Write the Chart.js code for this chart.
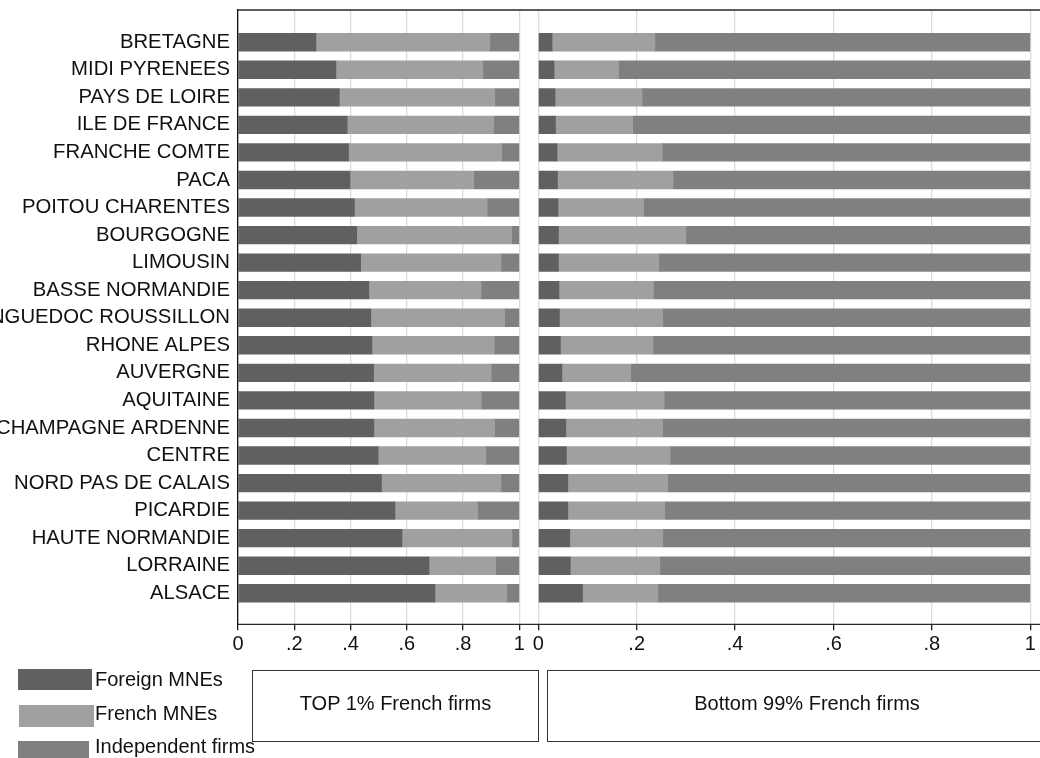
<!DOCTYPE html>
<html>
<head>
<meta charset="utf-8">
<script src="https://cdn.jsdelivr.net/npm/chart.js@4.4.1/dist/chart.umd.min.js"></script>
<style>
	body {
		margin: 0;
		width: 1040px;
		height: 758px;
		overflow: hidden;
		background: #fff;
		position: relative;
		font-family: 'Liberation Sans', Arial, sans-serif;
		color: #111;
	}
	.panel { position: absolute; top: 0; height: 670px; }
	#left-panel { left: 0; width: 530px; }
	#right-panel { left: 530px; width: 510px; }
	.swatch { position: absolute; }
	.leg-text { position: absolute; left: 95px; font-size: 20px; line-height: 22px; white-space: nowrap; }
	.title-box {
		position: absolute;
		top: 670px;
		height: 72px;
		border: 1px solid #333;
		box-sizing: border-box;
		display: flex;
		align-items: center;
		justify-content: center;
		font-size: 20px;
		padding-bottom: 6px;
	}
</style>
</head>
<body>
<div class="panel" id="left-panel"><canvas id="topChart"></canvas></div>
<div class="panel" id="right-panel"><canvas id="bottomChart"></canvas></div>

<div class="swatch" style="left:18px; top:669px; width:74px; height:21px; background:#606060"></div>
<div class="leg-text" style="top:668px">Foreign MNEs</div>
<div class="swatch" style="left:19px; top:705px; width:75px; height:22px; background:#a0a0a0"></div>
<div class="leg-text" style="top:702px">French MNEs</div>
<div class="swatch" style="left:18px; top:741px; width:71px; height:21px; background:#808080"></div>
<div class="leg-text" style="top:735px">Independent firms</div>

<div class="title-box" style="left:252px; width:287px">TOP 1% French firms</div>
<div class="title-box" style="left:547px; width:520px">Bottom 99% French firms</div>

<script>
const regions = ['BRETAGNE', 'MIDI PYRENEES', 'PAYS DE LOIRE', 'ILE DE FRANCE', 'FRANCHE COMTE', 'PACA',
	'POITOU CHARENTES', 'BOURGOGNE', 'LIMOUSIN', 'BASSE NORMANDIE', 'LANGUEDOC ROUSSILLON', 'RHONE ALPES',
	'AUVERGNE', 'AQUITAINE', 'CHAMPAGNE ARDENNE', 'CENTRE', 'NORD PAS DE CALAIS', 'PICARDIE',
	'HAUTE NORMANDIE', 'LORRAINE', 'ALSACE'];

const seriesNames = ['Foreign MNEs', 'French MNEs', 'Independent firms'];
const seriesColors = ['#606060', '#a0a0a0', '#808080'];

// TOP 1% French firms (shares)
const topForeign = [.277, .348, .360, .388, .393, .398, .414, .422, .436, .465, .472, .476, .482, .483, .483, .498, .510, .558, .583, .679, .700];
const topFrench = [.618, .522, .553, .521, .544, .440, .472, .551, .499, .399, .476, .435, .418, .382, .429, .383, .425, .294, .391, .237, .255];
const topIndep = [.105, .130, .087, .091, .063, .162, .114, .027, .065, .136, .052, .089, .100, .135, .088, .119, .065, .148, .026, .084, .045];

// Bottom 99% French firms (shares)
const botForeign = [.028, .032, .034, .035, .038, .039, .040, .041, .041, .042, .043, .045, .048, .055, .056, .057, .060, .060, .064, .065, .090];
const botFrench = [.209, .131, .177, .157, .214, .235, .174, .259, .204, .192, .210, .188, .140, .201, .197, .211, .203, .197, .189, .182, .153];
const botIndep = [.763, .837, .789, .808, .748, .726, .786, .700, .755, .766, .747, .767, .812, .744, .747, .732, .737, .743, .747, .753, .757];

const xTickValues = [0, .2, .4, .6, .8, 1];
const xTickLabels = ['0', '.2', '.4', '.6', '.8', '1'];

Chart.defaults.font.family = "'Liberation Sans', Arial, sans-serif";
Chart.defaults.color = '#111';

// top and bottom frame lines, running across the gap between the panels
const frameLines = {
	id: 'frameLines',
	afterDraw(chart, args, opts) {
		const { ctx, chartArea } = chart;
		const from = opts.fromEdge ? 0 : chartArea.left;
		ctx.save();
		ctx.strokeStyle = '#2a2a2a';
		ctx.lineWidth = 1.3;
		ctx.beginPath();
		ctx.moveTo(from, chartArea.top);
		ctx.lineTo(chart.width, chartArea.top);
		ctx.moveTo(from, chartArea.bottom);
		ctx.lineTo(chart.width, chartArea.bottom);
		ctx.stroke();
		ctx.restore();
	}
};

function makePanel(canvasId, shares, showLabels, pad) {
	const rows = vals => vals.map((v, i) => ({ x: v, y: i }));

	return new Chart(document.getElementById(canvasId), {
		type: 'bar',
		data: {
			datasets: seriesNames.map((name, k) => ({
				label: name,
				data: rows(shares[k]),
				backgroundColor: seriesColors[k],
				barThickness: 17.7
			}))
		},
		options: {
			indexAxis: 'y',
			responsive: true,
			maintainAspectRatio: false,
			animation: false,
			layout: { padding: pad },
			plugins: {
				legend: { display: false },
				tooltip: { enabled: false },
				frameLines: { fromEdge: !showLabels }
			},
			scales: {
				x: {
					type: 'linear',
					stacked: true,
					min: 0,
					max: 1,
					afterBuildTicks: s => { s.ticks = xTickValues.map(v => ({ value: v })); },
					afterFit: s => { s.height = 45.7; s.paddingLeft = 0; s.paddingRight = 0; },
					grid: { color: '#dcdcdc', lineWidth: 1.3, tickColor: '#222', tickLength: 6 },
					border: { display: false },
					ticks: {
						autoSkip: false,
						maxRotation: 0,
						padding: 2,
						color: '#111',
						font: { size: 20 },
						callback: (v, i) => xTickLabels[i]
					}
				},
				y: {
					type: 'linear',
					stacked: true,
					reverse: true,
					offset: false,
					min: -1.169,
					max: 21.126,
					display: showLabels,
					afterBuildTicks: s => { s.ticks = regions.map((r, i) => ({ value: i })); },
					afterFit: s => {
						if (showLabels) s.width = 238;
						s.paddingTop = 0;
						s.paddingBottom = 0;
					},
					grid: { display: false, drawTicks: false },
					border: { display: true, color: '#111', width: 1.3 },
					ticks: {
						autoSkip: false,
						padding: 8,
						color: '#111',
						font: { size: 20.3 },
						callback: v => regions[v]
					}
				}
			}
		},
		plugins: [frameLines]
	});
}

makePanel('topChart', [topForeign, topFrench, topIndep], true, { top: 10, left: 0, right: 10.7, bottom: 0 });
makePanel('bottomChart', [botForeign, botFrench, botIndep], false, { top: 10, left: 8.3, right: 9.7, bottom: 0 });
</script>
</body>
</html>
